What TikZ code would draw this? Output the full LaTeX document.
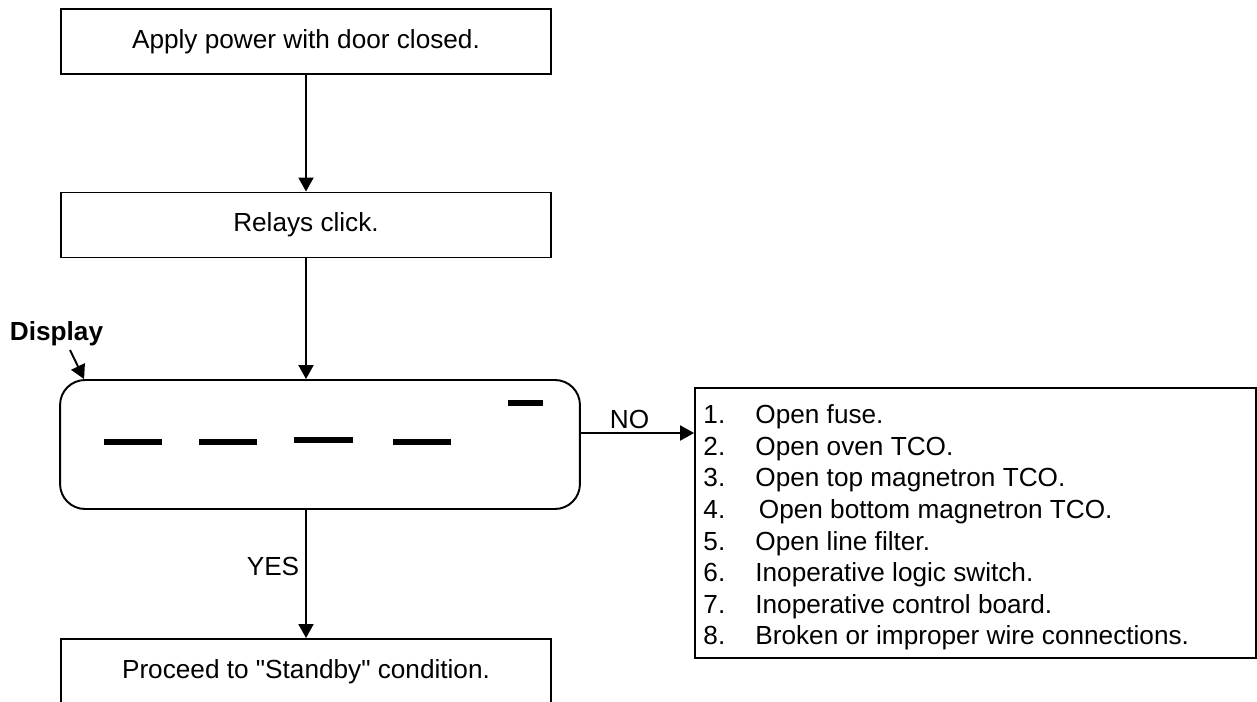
\documentclass[tikz,border=0pt]{standalone}
\usepackage{fontspec}
\setmainfont{Liberation Sans}[Ligatures=TeXOff]
\usetikzlibrary{arrows.meta,positioning}

\begin{document}
\begin{tikzpicture}[x=0.02cm,y=-0.02cm]
\tikzset{
  txt/.style={font=\fontsize{14.9}{18}\selectfont},
  stepbox/.style={rectangle,draw,line width=1.1pt,minimum width=9.8cm,minimum height=1.3cm,inner sep=0pt,txt},
  panel/.style={rectangle,draw,line width=1.1pt,rounded corners=0.5cm,minimum width=10.4cm,minimum height=2.58cm},
  flow/.style={-{Triangle[length=0.28cm,width=0.3cm]},line width=1.1pt},
  seg/.style={line width=0.12cm}
}
\useasboundingbox (0,0) rectangle (1257,702);
\clip (0,0) rectangle (1257,702);
\node[stepbox] (n_apply) at (306,41.5) {Apply power with door closed.};
\node[stepbox] (n_relays) at (306,225) {Relays click.};
\node[panel] (n_display) at (320,444.5) {};
\node[txt,font=\fontsize{14.9}{18}\selectfont\bfseries] (n_label) at (56.5,334) {Display};
\node[stepbox,anchor=north,text height=0.786cm,text depth=1.2cm] (n_standby) at (306,638) {Proceed to "Standby" condition.};
\node[stepbox,minimum width=11.22cm,minimum height=5.4cm] (n_causes) at (975.5,523) {};
\node[txt,anchor=north west,inner sep=0pt] (n_list) at ([shift={(0.18cm,-0.28cm)}]n_causes.north west) {%
\begin{tabular}{@{}p{1.04cm}@{}l@{}}
1. & Open fuse.\\
2. & Open oven TCO.\\
3. & Open top magnetron TCO.\\
4. & \hspace{0.07cm}Open bottom magnetron TCO.\\
5. & Open line filter.\\
6. & Inoperative logic switch.\\
7. & Inoperative control board.\\
8. & Broken or improper wire connections.
\end{tabular}};
% segments on the display
\draw[seg] (104,442) -- (162,442);
\draw[seg] (199,442) -- (257,442);
\draw[seg] (294,440) -- (353,440);
\draw[seg] (393,442) -- (451,442);
\draw[seg] (508,403) -- (543,403);
% flow
\draw[flow] (n_apply) -- (n_relays);
\draw[flow] (n_relays.south) -- (n_relays.south |- n_display.north);
\draw[flow] ([shift={(0.27cm,-0.32cm)}]n_label.center) -- ([xshift=0.5cm]n_display.north west);
\draw[flow] ([yshift=0.23cm]n_display.east) -- ([yshift=0.23cm]n_display.east -| n_causes.west) node[pos=0.43,above,txt,inner sep=2pt] {NO};
\draw[flow] (n_display.south -| n_standby.north) -- (n_standby.north) node[pos=0.44,left,txt] {YES};
\end{tikzpicture}
\end{document}
